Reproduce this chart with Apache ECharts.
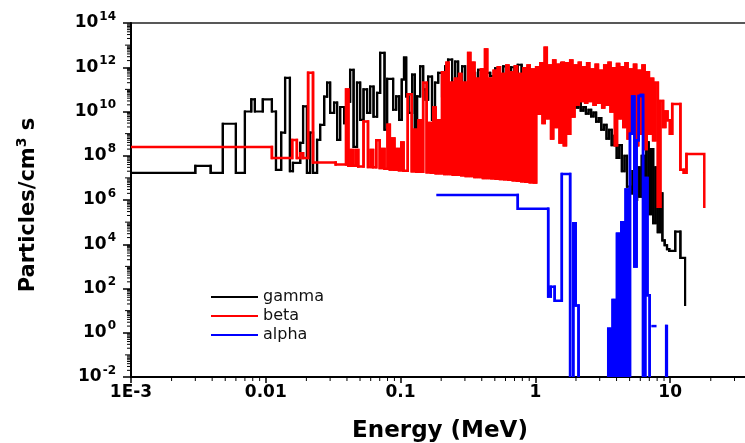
<!DOCTYPE html>
<html>
<head>
<meta charset="utf-8">
<title>Particle spectra</title>
<script src="https://cdn.jsdelivr.net/npm/echarts@6/dist/echarts.min.js"></script>
<style>
  html, body { margin: 0; padding: 0; background: #fff; }
  #spectrum { width: 745px; height: 443px; }
</style>
</head>
<body>
<div id="spectrum"></div>
<script>
// [energy (MeV), particles/cm3 s] - each pair opens a histogram bin
const gammaBins = [
  [0.001, 1.7e7], [0.0030, 3.5e7], [0.0039, 1.7e7], [0.0048, 2.8e9], [0.0060, 1.7e7],
  [0.0070, 1.0e10], [0.0078, 3.5e10], [0.0083, 1.0e10], [0.0095, 3.5e10], [0.0111, 1.0e10],
  [0.0119, 2.3e7], [0.0130, 1.1e9], [0.0139, 3.3e11], [0.0151, 2.0e7], [0.0159, 4.8e7],
  [0.0180, 3.8e8], [0.0189, 1.7e10], [0.0202, 1.7e7], [0.0213, 1.1e9], [0.0224, 1.7e7],
  [0.0240, 5.2e8], [0.0253, 2.5e9], [0.0271, 4.7e10], [0.0285, 2.0e11], [0.0300, 8.7e9],
  [0.0321, 2.5e10], [0.0338, 5.2e8], [0.0356, 1.6e10], [0.0381, 3.0e9], [0.0401, 2.8e10],
  [0.0422, 7.6e11], [0.0448, 2.5e8], [0.0475, 2.0e11], [0.0501, 4.2e9], [0.0531, 1.0e11],
  [0.0564, 8.7e9], [0.0594, 1.35e11], [0.0630, 5.8e9], [0.0669, 7.0e10], [0.0705, 4.5e12],
  [0.0760, 1.5e9], [0.0794, 3.0e11], [0.0880, 1.2e10], [0.0927, 4.8e10], [0.0975, 4.2e9],
  [0.1020, 2.8e11], [0.106, 2.7e12], [0.110, 4.8e10], [0.1145, 8.7e9], [0.1217, 4.6e11],
  [0.1275, 7.2e8], [0.1325, 4.8e10], [0.1396, 1.1e12], [0.147, 1.0e11], [0.153, 3.4e10],
  [0.160, 3.8e11], [0.171, 4.2e9], [0.180, 2.0e11], [0.190, 5.6e11], [0.203, 4.8e10],
  [0.214, 1.1e12], [0.225, 2.2e12], [0.241, 2.0e11], [0.254, 1.8e12], [0.267, 3.4e10],
  [0.286, 1.1e12], [0.301, 1.0e11], [0.317, 5.6e11], [0.357, 2.0e11], [0.376, 7.6e11],
  [0.403, 2.8e11], [0.424, 5.6e11], [0.462, 4.0e11], [0.503, 9.0e11], [0.529, 2.0e11],
  [0.577, 1.1e12], [0.628, 5.6e11], [0.660, 1.0e12], [0.700, 3.0e11], [0.740, 1.3e12],
  [0.790, 4.0e11], [0.840, 9.0e11], [0.890, 2.0e11], [0.940, 7.0e11], [1.00, 3.0e11],
  [1.06, 1.0e12], [1.13, 2.0e11], [1.20, 6.0e11], [1.28, 3.0e11], [1.36, 8.0e11],
  [1.45, 2.0e11], [1.55, 1.5e12], [1.65, 3.0e11], [1.75, 6.0e11], [1.83, 1.0e11],
  [1.90, 3.0e10], [1.99, 1.5e10], [2.08, 2.5e10], [2.17, 1.1e10], [2.27, 1.6e10],
  [2.37, 8.0e9], [2.48, 1.2e10], [2.59, 6.0e9], [2.70, 9.0e9], [2.82, 3.5e9],
  [2.95, 5.0e9], [3.08, 1.5e9], [3.22, 2.5e9], [3.37, 6.0e8], [3.52, 1.5e9],
  [3.68, 3.0e8], [3.84, 8.0e8], [4.01, 8.0e7], [4.19, 3.0e8], [4.38, 2.0e7],
  [4.58, 1.0e8], [4.78, 4.0e6], [5.05, 2.0e6], [5.25, 2.0e7], [5.46, 1.0e6],
  [5.68, 3.0e7], [5.91, 1.4e6], [6.15, 1.0e8], [6.40, 6.0e5], [6.65, 4.0e8],
  [6.92, 2.3e5], [7.19, 2.0e8], [7.48, 9.0e4], [7.78, 3.0e7], [8.09, 3.5e4],
  [8.42, 2.0e6], [8.75, 1.5e4], [9.10, 9.0e3], [9.47, 6.0e3], [9.84, 5.0e3],
  [10.9, 3.7e4], [11.9, 2.4e3], [12.9, 18]
];

const betaBins = [
  [0.001, 2.5e8], [0.0111, 8e7], [0.0157, 5.2e8], [0.0170, 8e7], [0.0180, 1.3e8], [0.0189, 8e7],
  [0.0206, 5.6e11], [0.0224, 5e7], [0.0330, 4e7], [0.0394, 1e11], [0.0410, 3.5e7],
  [0.0428, 1.8e8], [0.0445, 3.5e7], [0.0466, 1.8e8], [0.0485, 3.3e7], [0.0531, 3.5e9], [0.0573, 3.1e7],
  [0.0600, 1.8e8], [0.0625, 3e7], [0.0660, 5e8], [0.0700, 2.8e7], [0.0730, 2e8], [0.0760, 2.6e7],
  [0.0800, 2.5e9], [0.0832, 2.4e7], [0.0866, 6e8], [0.0900, 2.3e7], [0.0936, 2e8], [0.0973, 2.2e7],
  [0.1012, 4e8], [0.1052, 2.1e7], [0.113, 6e10], [0.121, 2e7], [0.126, 1.5e9], [0.131, 1.9e7],
  [0.136, 4e9], [0.141, 1.9e7], [0.147, 2e11], [0.156, 1.8e7], [0.162, 3e9], [0.168, 1.7e7],
  [0.175, 1.5e10], [0.182, 1.6e7], [0.189, 4e9], [0.196, 1.6e7], [0.203, 6e11], [0.211, 1.5e7],
  [0.219, 1.6e12], [0.227, 1.5e7], [0.235, 2e11], [0.244, 1.4e7], [0.253, 3e11], [0.262, 1.4e7],
  [0.272, 5e11], [0.282, 1.3e7], [0.293, 2e11], [0.304, 1.2e7], [0.317, 4.4e12], [0.329, 1.2e7],
  [0.341, 1.6e12], [0.353, 1.1e7], [0.366, 3e11], [0.380, 1.1e7], [0.394, 8e11], [0.408, 1e7],
  [0.423, 6.3e12], [0.439, 9.8e6], [0.455, 3e11], [0.472, 9.5e6], [0.490, 7e11], [0.508, 9.2e6],
  [0.526, 1e12], [0.546, 9e6], [0.566, 5e11], [0.587, 8.6e6], [0.609, 1.2e12], [0.631, 8.2e6],
  [0.655, 6e11], [0.679, 7.8e6], [0.704, 1.1e12], [0.730, 7.4e6], [0.757, 5e11], [0.785, 7e6],
  [0.814, 9e11], [0.844, 6.7e6], [0.875, 1.2e12], [0.908, 6.4e6], [0.941, 8e11], [0.976, 6.2e6],
  [1.013, 1.0e12], [1.050, 8e9], [1.089, 1.5e12], [1.130, 3e9], [1.172, 7.6e12], [1.215, 5e9],
  [1.260, 1.2e12], [1.307, 6e8], [1.355, 2e12], [1.405, 2e9], [1.457, 1.3e12], [1.511, 4e8],
  [1.567, 1.6e12], [1.625, 3e8], [1.685, 1.5e12], [1.748, 1e9], [1.812, 2e12], [1.879, 6e9],
  [1.949, 1.2e12], [2.02, 2e10], [2.10, 1.6e12], [2.17, 3e10], [2.25, 1e12], [2.34, 2.5e10],
  [2.42, 1.5e12], [2.51, 3e10], [2.61, 8e11], [2.70, 2e10], [2.80, 1.3e12], [2.91, 2.5e10],
  [3.01, 7e11], [3.13, 1.5e10], [3.24, 1.2e12], [3.36, 2e10], [3.49, 1.6e12], [3.61, 1e10],
  [3.75, 9e11], [3.89, 3e8], [4.03, 1.4e12], [4.18, 5e9], [4.33, 1e12], [4.49, 2e9],
  [4.66, 1.5e12], [4.83, 6e8], [5.01, 8e11], [5.20, 1e9], [5.39, 1.3e12], [5.59, 3e8],
  [5.79, 7e11], [6.01, 1e9], [6.23, 1.2e12], [6.46, 2e8], [6.70, 6e11], [6.95, 1e9],
  [7.20, 3e11], [7.47, 5e8], [7.75, 2e11], [8.10, 5e5], [8.45, 3e10], [8.85, 2e9],
  [9.20, 1e10], [9.55, 4e9], [9.95, 1e9], [10.35, 2.2e10], [11.9, 2.3e7], [12.6, 1.7e7],
  [13.2, 1.2e8], [17.9, 5e5]
];

// 1e-4 marks an empty bin (below the axis); null leaves a gap
const alphaBins = [
  [0.188, 1.7e6], [0.740, 4e5], [1.244, 43], [1.30, 120], [1.39, 28], [1.57, 1.5e7], [1.81, 1e-4],
  [1.91, 9e4], [1.99, 17], [2.09, 1e-4],
  [3.47, 1.5], [3.60, 1e-4], [3.74, 30], [3.88, 1e-4], [4.03, 3e4], [4.18, 1e-4], [4.34, 1e5],
  [4.50, 1e-4], [4.67, 3e6], [4.85, 1e-4], [5.03, 1e9], [5.22, 4.8e10], [5.42, 1e3], [5.63, 5e8],
  [5.84, 5e10], [6.06, 5.6e10], [6.29, 1e-4], [6.53, 1e7], [6.78, 50], [7.04, 1e-4],
  [7.40, null], [7.40, 2], [7.75, 2], [7.75, null],
  [9.30, 1e-4], [9.34, 2], [9.45, 1e-4]
];

const xTickLabels = ["1E-3", "0.01", "0.1", "1", "10", "100"];
const seriesNames = ["gamma", "beta", "alpha"];
const seriesColors = ["#000000", "#ff0000", "#0000ff"];
const seriesWidths = [2.2, 2.5, 2.5];

const font = "DejaVu Sans";

// one item per bin, in decades: [E, flux, next edge, next flux, previous flux]
const toSteps = bins => {
  const lg = v => Math.log10(v);
  const items = [];
  for (let i = 0; i < bins.length - 1; i++) {
    const [e0, v0] = bins[i];
    if (v0 == null) continue;
    const y0 = lg(v0);
    const prev = i > 0 && bins[i - 1][1] != null ? lg(bins[i - 1][1]) : y0;
    const next = bins[i + 1][1] != null ? lg(bins[i + 1][1]) : y0;
    items.push([lg(e0), y0, lg(bins[i + 1][0]), next, prev]);
  }
  return items;
};

// each bin draws both of its edges, so neighbouring bins overlap cleanly
const stepRenderer = (color, width) => (params, api) => {
  const x0 = api.value(0);
  const y0 = api.value(1);
  const x1 = api.value(2);
  return {
    type: "polyline",
    shape: {
      points: [
        api.coord([x0, api.value(4)]),
        api.coord([x0, y0]),
        api.coord([x1, y0]),
        api.coord([x1, api.value(3)])
      ]
    },
    style: { stroke: color, lineWidth: width, fill: null, lineCap: "square", lineJoin: "miter" },
    clipPath: {
      type: "rect",
      shape: {
        x: params.coordSys.x,
        y: params.coordSys.y,
        width: params.coordSys.width,
        height: params.coordSys.height
      }
    }
  };
};

// log-spaced minor ticks (2..9 within every decade, plus odd decades on y)
const xMinor = [];
for (let n = -3; n <= 1; n++) {
  for (let k = 2; k <= 9; k++) xMinor.push([n + Math.log10(k), -2, 4]);
}
const yMinor = [];
for (let n = -2; n < 14; n++) {
  for (let k = 1; k <= 9; k++) {
    if (k === 1 && n % 2 === 0) continue;
    yMinor.push([-3, n + Math.log10(k), k === 1 ? 6 : 4]);
  }
}

const tickRenderer = horizontal => (params, api) => {
  const p = api.coord([api.value(0), api.value(1)]);
  const len = api.value(2);
  return {
    type: "line",
    shape: horizontal
      ? { x1: p[0], y1: p[1], x2: p[0], y2: p[1] + len }
      : { x1: p[0], y1: p[1], x2: p[0] - len, y2: p[1] },
    style: { stroke: "#000", lineWidth: 1 }
  };
};

const spectrumSeries = [gammaBins, betaBins, alphaBins].map((bins, i) => ({
  name: seriesNames[i],
  type: "custom",
  silent: true,
  renderItem: stepRenderer(seriesColors[i], seriesWidths[i]),
  itemStyle: { color: seriesColors[i] },
  encode: { x: 0, y: 1 },
  data: toSteps(bins)
}));

const spectrum = echarts.init(document.getElementById("spectrum"));

spectrum.setOption({
  animation: false,
  textStyle: { fontFamily: font },
  grid: {
    show: true,
    borderColor: "#222",
    borderWidth: 1.5,
    left: 131,
    top: 23,
    width: 674,
    height: 354,
    containLabel: false,
    outerBoundsMode: "none"
  },
  legend: {
    data: seriesNames,
    orient: "vertical",
    left: 211,
    top: 289,
    padding: 0,
    icon: "rect",
    itemWidth: 47,
    itemHeight: 2,
    itemGap: 3,
    textStyle: { fontFamily: font, fontSize: 16, color: "#111" }
  },
  xAxis: {
    type: "value",
    min: -3,
    max: 2,
    interval: 1,
    name: "Energy (MeV)",
    nameLocation: "middle",
    nameGap: 43,
    nameTextStyle: {
      fontFamily: font,
      fontSize: 23,
      fontWeight: "bold",
      color: "#000",
      padding: [0, 56, 0, 0]
    },
    axisLine: { onZero: false, lineStyle: { color: "#000", width: 2 } },
    axisTick: { length: 6, lineStyle: { color: "#000", width: 1.5 } },
    splitLine: { show: false },
    axisLabel: {
      margin: 7,
      fontFamily: font,
      fontSize: 17,
      fontWeight: "bold",
      color: "#000",
      formatter: v => xTickLabels[Math.round(v) + 3]
    }
  },
  yAxis: {
    type: "value",
    min: -2,
    max: 14,
    interval: 2,
    name: "Particles/cm{s|3} s",
    nameLocation: "middle",
    nameRotate: 90,
    nameGap: 88,
    nameTextStyle: {
      fontFamily: font,
      fontSize: 21,
      fontWeight: "bold",
      color: "#000",
      padding: [0, 10, 0, 0],
      rich: {
        s: { fontFamily: font, fontSize: 14, fontWeight: "bold", padding: [0, 0, 14, 0] }
      }
    },
    axisLine: { show: true, onZero: false, lineStyle: { color: "#000", width: 2 } },
    axisTick: { length: 8, lineStyle: { color: "#000", width: 1.5 } },
    splitLine: { show: false },
    axisLabel: {
      margin: 15,
      formatter: v => "{b|10}{e|" + v + "}",
      rich: {
        b: { fontFamily: font, fontSize: 17, fontWeight: "bold", color: "#000" },
        e: {
          fontFamily: font,
          fontSize: 12,
          fontWeight: "bold",
          color: "#000",
          padding: [0, 0, 13, 1]
        }
      }
    }
  },
  series: spectrumSeries.concat([
    {
      type: "custom",
      silent: true,
      clip: false,
      renderItem: tickRenderer(true),
      data: xMinor
    },
    {
      type: "custom",
      silent: true,
      clip: false,
      renderItem: tickRenderer(false),
      data: yMinor
    }
  ])
});
</script>
</body>
</html>
